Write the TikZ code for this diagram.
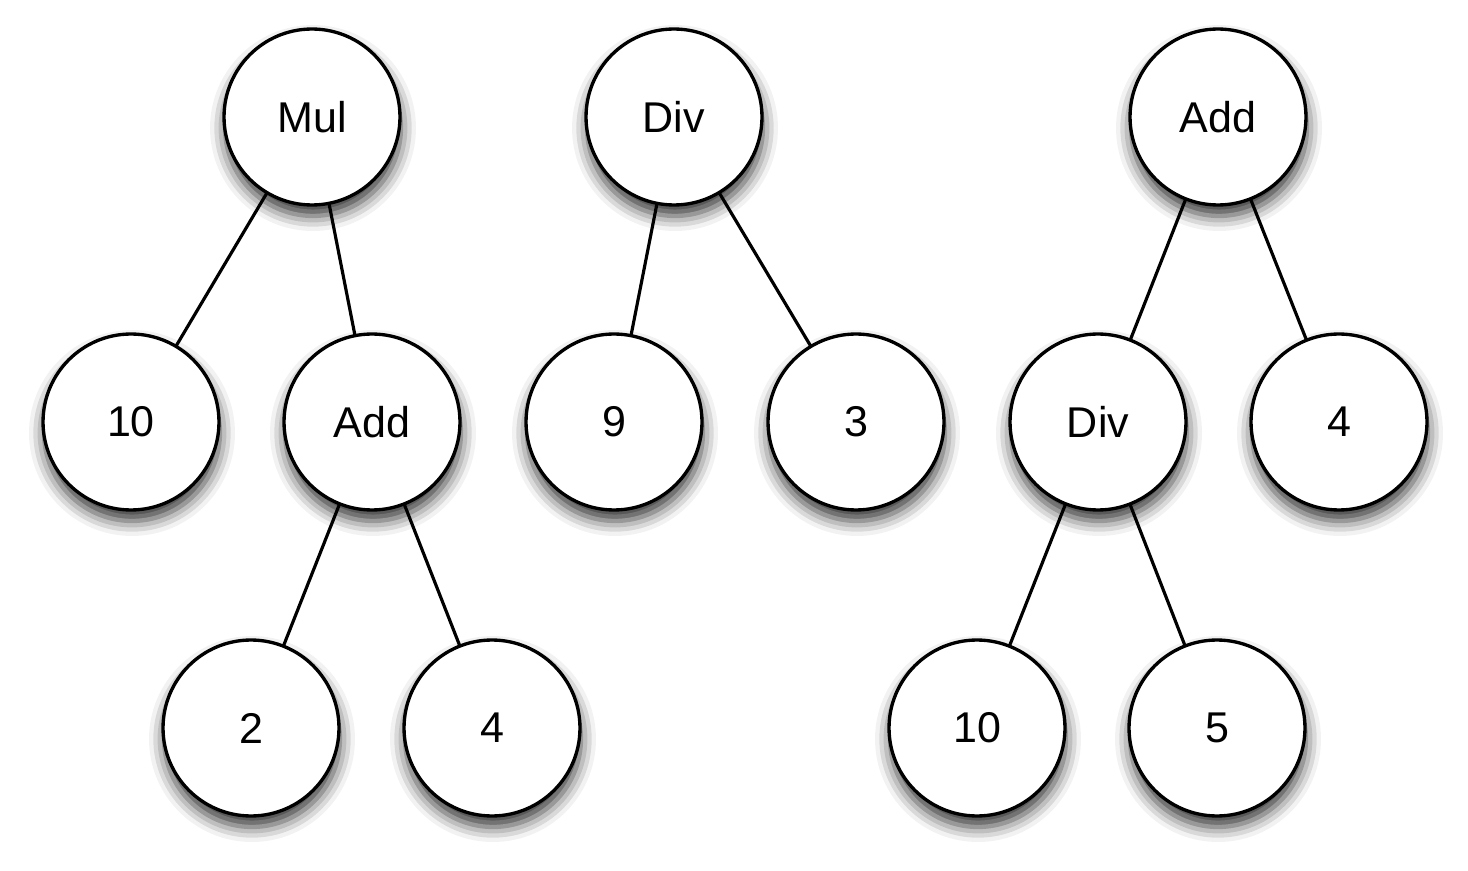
\documentclass[tikz,border=0pt]{standalone}
\usepackage{fontspec}
\setmainfont{Liberation Sans}
\usetikzlibrary{shadows.blur}
\begin{document}
\begin{tikzpicture}[x=0.02cm,y=-0.02cm,
  tnode/.style={circle, draw=black, line width=1.9pt, fill=white, minimum size=3.52cm, inner sep=0pt,
    font=\fontsize{24.5}{28}\selectfont,
    blur shadow={shadow xshift=0.2mm, shadow yshift=-2.2mm, shadow blur radius=3mm, shadow opacity=80}},
  edge/.style={line width=1.8pt, black}]
\useasboundingbox (0,0) rectangle (1468,871);
% centres
\coordinate (cMul) at (312,117);
\coordinate (cAddA) at (372,422);
\coordinate (cTen) at (131,422);
\coordinate (cTwo) at (251,728);
\coordinate (cFourA) at (492,728);
\coordinate (cDivA) at (674,117);
\coordinate (cNine) at (614,422);
\coordinate (cThree) at (856,422);
\coordinate (cAddB) at (1218,117);
\coordinate (cDivB) at (1098,422);
\coordinate (cFourB) at (1339,422);
\coordinate (cTenB) at (977,728);
\coordinate (cFive) at (1217,728);
% edges
\draw[edge] (cMul) -- (cTen);
\draw[edge] (cMul) -- (cAddA);
\draw[edge] (cAddA) -- (cTwo);
\draw[edge] (cAddA) -- (cFourA);
\draw[edge] (cDivA) -- (cNine);
\draw[edge] (cDivA) -- (cThree);
\draw[edge] (cAddB) -- (cDivB);
\draw[edge] (cAddB) -- (cFourB);
\draw[edge] (cDivB) -- (cTenB);
\draw[edge] (cDivB) -- (cFive);
% nodes
\node[tnode] (mul) at (cMul) {Mul};
\node[tnode] (ten) at (cTen) {10};
\node[tnode] (adda) at (cAddA) {Add};
\node[tnode] (two) at (cTwo) {2};
\node[tnode] (foura) at (cFourA) {4};
\node[tnode] (diva) at (cDivA) {Div};
\node[tnode] (nine) at (cNine) {9};
\node[tnode] (three) at (cThree) {3};
\node[tnode] (addb) at (cAddB) {Add};
\node[tnode] (divb) at (cDivB) {Div};
\node[tnode] (fourb) at (cFourB) {4};
\node[tnode] (tenb) at (cTenB) {10};
\node[tnode] (five) at (cFive) {5};
\end{tikzpicture}
\end{document}
